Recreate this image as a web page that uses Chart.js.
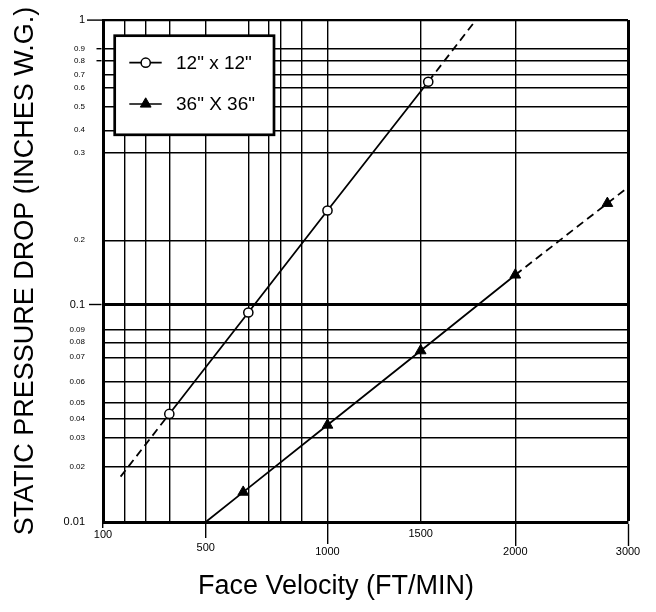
<!DOCTYPE html>
<html>
<head>
<meta charset="utf-8">
<script src="https://cdn.jsdelivr.net/npm/chart.js@4/dist/chart.umd.min.js"></script>
<style>
  html, body { margin: 0; padding: 0; background: #ffffff; }
  #c { display: block; }
</style>
</head>
<body>
<canvas id="c" width="656" height="612"></canvas>
<script>
// ---------------- data ----------------
const seriesLabels = ['12" x 12"', '36" X 36"'];

// 12" x 12" filter: face velocity (ft/min) and static pressure drop (in. w.g.)
const velocity12 = [180, 400, 600, 1000, 1540, 1792];
const drop12     = [0.0182, 0.0431, 0.097, 0.234, 0.646, 1.0];
const marked12   = [false, true, true, true, true, false];
const dashed12   = [0, 4];            // segments drawn dashed (extrapolation)

// 36" X 36" filter
const velocity36 = [500, 588, 1000, 1500, 2000, 2817, 3000];
const drop36     = [0.01, 0.0154, 0.0367, 0.0744, 0.1464, 0.2422, 0.2605];
const marked36   = [false, true, true, true, true, true, false];
const dashed36   = [4, 5];

// grid values / tick labels
const xTickValues = [100, 200, 300, 400, 500, 600, 700, 800, 900, 1000, 1500, 2000, 3000];
const xTickLabels = ['100', '', '', '', '500', '', '', '', '', '1000', '1500', '2000', '3000'];
const yTickValues = [0.01, 0.02, 0.03, 0.04, 0.05, 0.06, 0.07, 0.08, 0.09, 0.1,
                     0.2, 0.3, 0.4, 0.5, 0.6, 0.7, 0.8, 0.9, 1];
const yTickLabels = ['0.01', '0.02', '0.03', '0.04', '0.05', '0.06', '0.07', '0.08', '0.09', '0.1',
                     '0.2', '0.3', '0.4', '0.5', '0.6', '0.7', '0.8', '0.9', '1'];

// ---------------- axis geometry (relative spacing of the printed grid) ----------------
const xGridSpacing = [0, 0.0419, 0.0810, 0.1263, 0.1956, 0.2768, 0.3156, 0.3385, 0.3790, 0.4276, 0.6051, 0.7853, 1];
const yGridSpacing = [0, 0.1102, 0.1687, 0.2052, 0.2376, 0.2789, 0.3281, 0.3580, 0.3825, 0.4323,
                      0.5612, 0.7357, 0.7803, 0.8277, 0.8651, 0.8910, 0.9183, 0.9422, 1];

const FONT = '"Liberation Sans", Arial, Helvetica, sans-serif';

const GEOM = {
  x: { values: xTickValues, pos: xGridSpacing },
  y: { values: yTickValues, pos: yGridSpacing }
};

function toDecimal(g, v) {
  const vs = g.values, ps = g.pos, n = vs.length;
  let i = 0;
  if (v <= vs[0]) i = 0;
  else if (v >= vs[n - 1]) i = n - 2;
  else { while (i < n - 2 && v > vs[i + 1]) i++; }
  const t = (v - vs[i]) / (vs[i + 1] - vs[i]);
  return ps[i] + t * (ps[i + 1] - ps[i]);
}
function fromDecimal(g, d) {
  const vs = g.values, ps = g.pos, n = vs.length;
  let i = 0;
  if (d <= ps[0]) i = 0;
  else if (d >= ps[n - 1]) i = n - 2;
  else { while (i < n - 2 && d > ps[i + 1]) i++; }
  const t = (d - ps[i]) / (ps[i + 1] - ps[i]);
  return vs[i] + t * (vs[i + 1] - vs[i]);
}

// A scale that follows the printed (non-uniform) grid of the original chart paper
class PaperScale extends Chart.LinearScale {
  determineDataLimits() {
    const g = GEOM[this.id];
    this.min = g.values[0];
    this.max = g.values[g.values.length - 1];
  }
  buildTicks() {
    return GEOM[this.id].values.map(v => ({ value: v }));
  }
  getPixelForValue(value) {
    if (value === null || value === undefined) return NaN;
    return this.getPixelForDecimal(toDecimal(GEOM[this.id], value));
  }
  getValueForPixel(pixel) {
    return fromDecimal(GEOM[this.id], this.getDecimalForPixel(pixel));
  }
}
PaperScale.id = 'paper';
PaperScale.defaults = {};
Chart.register(PaperScale);

// ---------------- boxed legend ----------------
const boxedLegend = {
  id: 'boxedLegend',
  afterDatasetsDraw(chart) {
    const { ctx, chartArea } = chart;
    const bx = chartArea.left + 11.7, by = chartArea.top + 15.7, bw = 159.3, bh = 99.1;
    ctx.save();
    ctx.setLineDash([]);
    ctx.fillStyle = '#ffffff';
    ctx.fillRect(bx, by, bw, bh);
    ctx.lineWidth = 2.7;
    ctx.strokeStyle = '#000000';
    ctx.strokeRect(bx, by, bw, bh);
    chart.data.datasets.forEach((ds, i) => {
      const y = by + 27 + i * 41.3;
      ctx.beginPath();
      ctx.lineWidth = 1.7;
      ctx.strokeStyle = '#000000';
      ctx.moveTo(bx + 14.6, y);
      ctx.lineTo(bx + 47, y);
      ctx.stroke();
      ctx.fillStyle = ds.pointBackgroundColor;
      ctx.strokeStyle = ds.pointBorderColor;
      ctx.lineWidth = ds.pointBorderWidth;
      const r = ds.legendRadius;
      Chart.helpers.drawPoint(ctx, { pointStyle: ds.pointStyle, radius: r, rotation: 0, borderWidth: ds.pointBorderWidth }, bx + 31, y);
      ctx.fillStyle = '#000000';
      ctx.font = '19px ' + FONT;
      ctx.textAlign = 'left';
      ctx.textBaseline = 'middle';
      ctx.fillText(ds.label, bx + 61.3, y + 1);
    });
    ctx.restore();
  }
};

// ---------------- helpers for tick styling ----------------
const bigY = ['1', '0.1', '0.01'];
function xLabelLines(i) {
  const t = xTickLabels[i];
  if (!t) return '';
  if (t === '100' || t === '1500') return t;
  return ['', t];
}
function xLineHeight(label) {
  if (label === '100') return 1.2;
  if (label === '1500') return 1.02;
  if (label === '500') return 1.19;
  return 1.43;
}
function xTickDash(label) {
  if (label === '100') return [4, 100];
  if (label === '500') return [14, 100];
  if (label === '1000') return [20, 100];
  return [];
}

const chart = new Chart(document.getElementById('c'), {
  type: 'line',
  data: {
    datasets: [
      {
        label: seriesLabels[0],
        data: velocity12.map((v, i) => ({ x: v, y: drop12[i] })),
        borderColor: '#000000',
        borderWidth: 1.8,
        tension: 0,
        fill: false,
        pointStyle: 'circle',
        pointRadius: marked12.map(m => (m ? 4.6 : 0)),
        legendRadius: 4.6,
        pointBackgroundColor: '#ffffff',
        pointBorderColor: '#000000',
        pointBorderWidth: 1.5,
        segment: { borderDash: c => (dashed12.includes(c.p0DataIndex) ? [8, 5] : []) }
      },
      {
        label: seriesLabels[1],
        data: velocity36.map((v, i) => ({ x: v, y: drop36[i] })),
        borderColor: '#000000',
        borderWidth: 1.8,
        tension: 0,
        fill: false,
        pointStyle: 'triangle',
        pointRadius: marked36.map(m => (m ? 6.2 : 0)),
        legendRadius: 6.2,
        pointBackgroundColor: '#000000',
        pointBorderColor: '#000000',
        pointBorderWidth: 1,
        segment: { borderDash: c => (dashed36.includes(c.p0DataIndex) ? [8, 5] : []) }
      }
    ]
  },
  options: {
    responsive: false,
    animation: false,
    events: [],
    layout: { padding: { left: 44, right: 28, top: 20, bottom: 0 } },
    plugins: {
      legend: { display: false },
      tooltip: { enabled: false },
      title: {
        display: true,
        position: 'bottom',
        text: 'Face Velocity (FT/MIN)',
        color: '#000000',
        font: { family: FONT, size: 27, weight: 'normal', lineHeight: 1.2 },
        padding: { top: 0, bottom: 9 }
      }
    },
    scales: {
      x: {
        type: 'paper',
        position: 'bottom',
        afterFit: s => { s.height = 48.6; },
        border: { display: true, color: '#000000', width: 3 },
        grid: {
          color: '#000000',
          lineWidth: c => (c.tick && c.tick.value === 3000 ? 3 : 1.4),
          drawTicks: true,
          tickLength: 24,
          tickWidth: 1.4,
          tickColor: c => {
            if (!c.tick) return 'rgba(0,0,0,0)';
            const l = xTickLabels[c.index];
            return (l && l !== '1500') ? '#000000' : 'rgba(0,0,0,0)';
          },
          tickBorderDash: c => (c.tick ? xTickDash(xTickLabels[c.index]) : [])
        },
        ticks: {
          autoSkip: false,
          maxRotation: 0,
          minRotation: 0,
          padding: -17.6,
          color: '#000000',
          font: c => ({ family: FONT, size: 11, weight: 'normal', style: 'normal',
                        lineHeight: c.tick ? xLineHeight(xTickLabels[c.index]) : 1.2 }),
          callback: (v, i) => xLabelLines(i)
        }
      },
      y: {
        type: 'paper',
        position: 'left',
        afterFit: s => { s.width = 59; },
        border: { display: true, color: '#000000', width: 3 },
        grid: {
          color: '#000000',
          lineWidth: c => {
            if (!c.tick) return 1.4;
            const l = yTickLabels[c.index];
            if (l === '0.1') return 3;
            if (l === '1') return 2.2;
            return 1.4;
          },
          drawTicks: true,
          tickLength: 22,
          tickWidth: 1.4,
          tickColor: c => {
            if (!c.tick) return 'rgba(0,0,0,0)';
            const l = yTickLabels[c.index];
            return ['1', '0.9', '0.8', '0.1'].includes(l) ? '#000000' : 'rgba(0,0,0,0)';
          },
          tickBorderDash: c => {
            if (!c.tick) return [];
            const l = yTickLabels[c.index];
            if (l === '0.9' || l === '0.8') return [5, 15.5];
            if (l === '0.1') return [12.5, 8];
            if (l === '1') return [16, 6];
            return [];
          },
          tickBorderDashOffset: c => {
            if (!c.tick) return 0;
            const l = yTickLabels[c.index];
            if (l === '0.9' || l === '0.8') return 5;
            if (l === '0.1') return 12.5;
            if (l === '1') return 16;
            return 0;
          }
        },
        ticks: {
          autoSkip: false,
          padding: -4,
          color: '#000000',
          font: c => ({ family: FONT, size: (c.tick && bigY.includes(yTickLabels[c.index])) ? 11 : 8,
                        weight: 'normal', style: 'normal', lineHeight: 1.2 }),
          callback: (v, i) => yTickLabels[i]
        },
        title: {
          display: true,
          text: 'STATIC PRESSURE DROP (INCHES W.G.)',
          color: '#000000',
          font: { family: FONT, size: 27, weight: 'normal', lineHeight: 1.2 },
          padding: { top: -34.2, bottom: 0 }
        }
      }
    }
  },
  plugins: [boxedLegend]
});
</script>
</body>
</html>
